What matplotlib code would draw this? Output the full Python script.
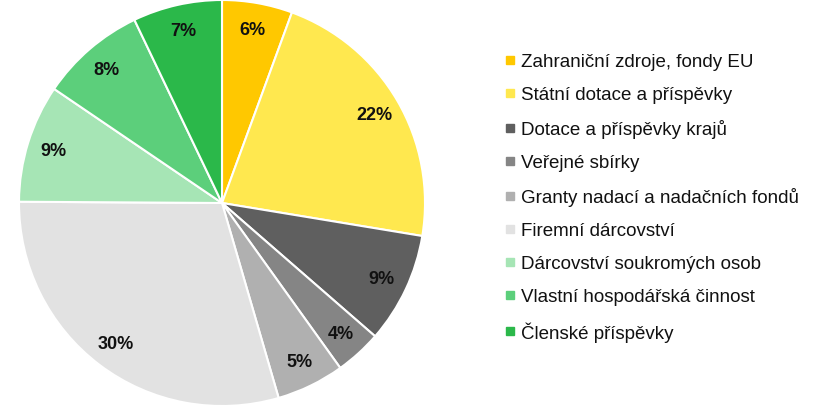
import matplotlib.pyplot as plt
from matplotlib.lines import Line2D

plt.rcParams['font.family'] = ['Liberation Sans', 'DejaVu Sans']

labels = ['Zahraniční zdroje, fondy EU', 'Státní dotace a příspěvky',
          'Dotace a příspěvky krajů', 'Veřejné sbírky',
          'Granty nadací a nadačních fondů', 'Firemní dárcovství',
          'Dárcovství soukromých osob', 'Vlastní hospodářská činnost',
          'Členské příspěvky']
shares = [5.6, 22.0, 8.8, 3.7, 5.4, 29.6, 9.4, 8.4, 7.1]
colors = ['#ffc800', '#ffe84f', '#5f5f5f', '#858585', '#b0b0b0',
          '#e2e2e2', '#a6e5b5', '#5ccf7b', '#2bb84a']

fig = plt.figure(figsize=(8.14, 4.10), dpi=100)
ax = fig.add_axes([19 / 814, 3 / 410, 406 / 814, 406 / 410])

wedges, texts, autotexts = ax.pie(
    shares, colors=colors, startangle=90, counterclock=False,
    autopct='%.0f%%', pctdistance=0.87,
    wedgeprops={'edgecolor': 'white', 'linewidth': 1.5},
    textprops={'fontsize': 13, 'fontweight': 'bold', 'color': '#111111'})
for w in wedges:
    w.set_clip_on(False)
ax.set_xlim(-1, 1)
ax.set_ylim(-1, 1)
ax.set_aspect('equal')

handles = [Line2D([], [], marker='s', linestyle='none', markersize=6,
                  markerfacecolor=c, markeredgecolor=c) for c in colors]
fig.legend(handles, labels, loc='upper left',
           bbox_to_anchor=(505 / 814, 1 - 54 / 410), frameon=False,
           fontsize=13.5, labelspacing=0.85, handlelength=0.5,
           handletextpad=0.35, borderpad=0, borderaxespad=0,
           labelcolor='#111111')

fig.savefig('out.png', dpi=100)
